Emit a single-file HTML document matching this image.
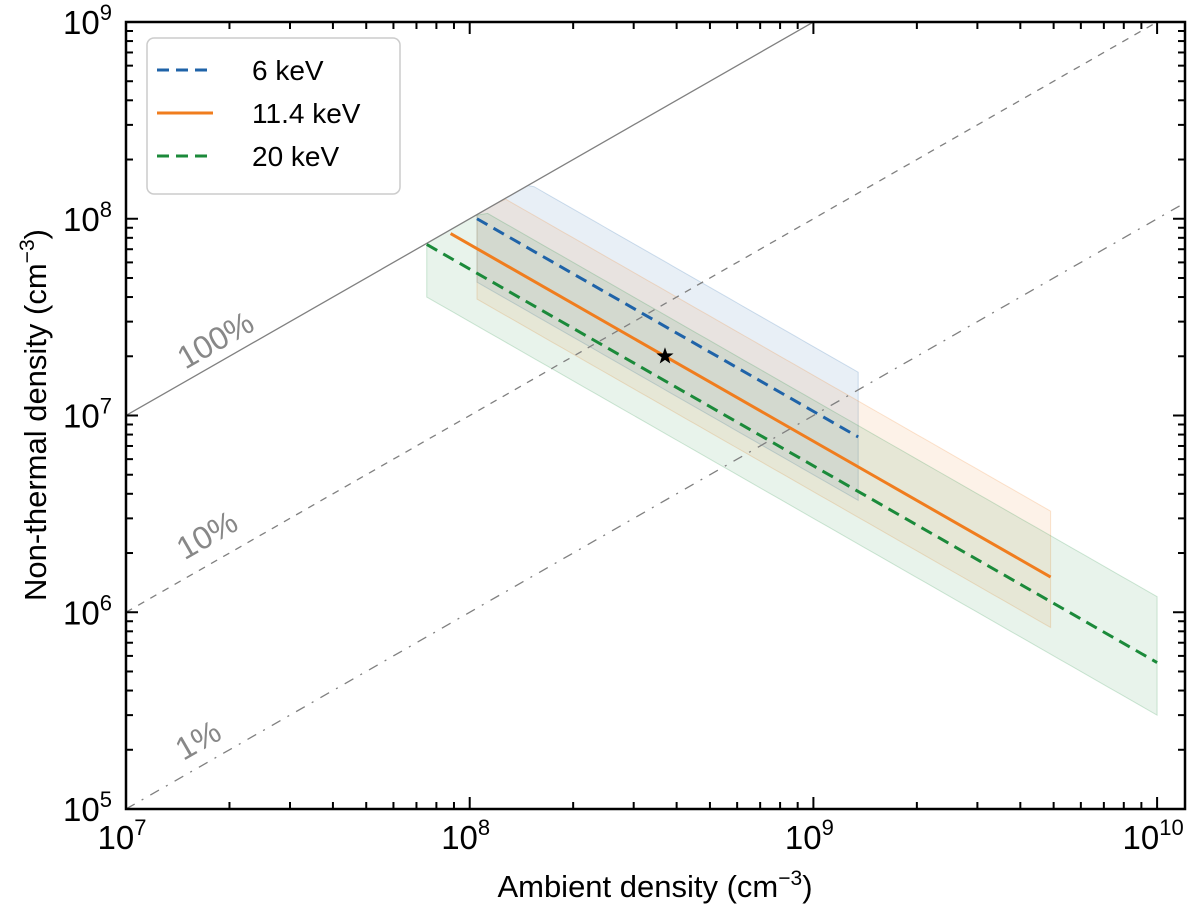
<!DOCTYPE html>
<html><head><meta charset="utf-8"><style>
body{margin:0;background:#fff;}
svg{display:block;font-family:"Liberation Sans",sans-serif;}
</style></head><body>
<svg id="c" width="1200" height="919"></svg>
<script>
const energies=["6 keV","11.4 keV","20 keV"];
const colors=["#1f63a8","#f07d1e","#1b8a3a"];
const dashes=["12,7","","12,7"];
const lineX0=[1.05e8,8.8e7,7.5e7];
const lineX1=[1.35e9,4.9e9,1e10];
const lineC=[1.05e16,7.4e15,5.55e15];
const bandUpper=[2.24e16,1.6e16,1.2e16];
const bandLower=[5.0e15,4.1e15,3.0e15];
const bandX0=[1.05e8,1.05e8,7.5e7];
const bandX1=[1.35e9,4.9e9,1e10];
const fractions=[1,0.1,0.01];
const fracLabels=["100%","10%","1%"];
const starPoint=[3.7e8,2e7];
const xTicks=[7,8,9,10];
const yTicks=[5,6,7,8,9];

const L=126,R=1185,T=22,B=809;
const xd=343.7, yd=196.75;
const X=v=>L+(Math.log10(v)-7)*xd;
const Y=v=>T+(9-Math.log10(v))*yd;
const xmax=Math.pow(10,7+(R-L)/xd);
const svg=document.getElementById('c');
const NS='http://www.w3.org/2000/svg';
function mk(t,a,p){const e=document.createElementNS(NS,t);for(const k in a)e.setAttribute(k,a[k]);(p||svg).appendChild(e);return e;}
const defs=mk('defs',{});const cp=mk('clipPath',{id:'cp'},defs);mk('rect',{x:L,y:T,width:R-L,height:B-T},cp);
const g=mk('g',{'clip-path':'url(#cp)'});

for(let i=0;i<3;i++){
  const pts=[];const n=60;
  for(let k=0;k<=n;k++){const x=bandX0[i]*Math.pow(bandX1[i]/bandX0[i],k/n);pts.push([X(x),Y(Math.min(bandUpper[i]/x,x))]);}
  for(let k=n;k>=0;k--){const x=bandX0[i]*Math.pow(bandX1[i]/bandX0[i],k/n);pts.push([X(x),Y(bandLower[i]/x)]);}
  const p=mk('polygon',{points:pts.map(q=>q.join(',')).join(' '),fill:colors[i],'fill-opacity':0.1,stroke:colors[i],'stroke-opacity':0.2},g);
  
  
}
const fdash=["","7,7","10,8,2,8"];
for(let i=0;i<3;i++){
  const f=fractions[i];
  const l=mk('line',{x1:X(1e7),y1:Y(1e7*f),x2:X(xmax),y2:Y(xmax*f),stroke:'#808080','stroke-width':1.3,'stroke-dasharray':fdash[i]},g);
  
  
}
const labPos=[[1.82e7,2.42e7],[1.72e7,2.47e6],[1.62e7,2.24e5]];
for(let i=0;i<3;i++){
  const x=X(labPos[i][0]),y=Y(labPos[i][1]);
  const t=mk('text',{x:x,y:y+11,fill:'#888','font-size':32,'text-anchor':'middle',transform:`rotate(-29.8 ${x} ${y})`});
  t.textContent=fracLabels[i];
  
  
}
for(let i=0;i<3;i++){
  const l=mk('line',{x1:X(lineX0[i]),y1:Y(lineC[i]/lineX0[i]),x2:X(lineX1[i]),y2:Y(lineC[i]/lineX1[i]),stroke:colors[i],'stroke-width':3,'stroke-dasharray':dashes[i]},g);
  
  
}
{const cx=X(starPoint[0]),cy=Y(starPoint[1]);let p=[];for(let k=0;k<10;k++){const r=k%2?3.6:9;const a=-Math.PI/2+k*Math.PI/5;p.push((cx+r*Math.cos(a))+','+(cy+r*Math.sin(a)));}
const s=mk('polygon',{points:p.join(' '),fill:'#000'});}

mk('rect',{x:L,y:T,width:R-L,height:B-T,fill:'none',stroke:'#000','stroke-width':2.5});
for(let d=7;d<=10;d++)for(let m=1;m<10;m++){const v=m*Math.pow(10,d);if(v>xmax)break;const x=X(v);const len=m==1?12:7;
  mk('line',{x1:x,y1:B,x2:x,y2:B-len,stroke:'#000','stroke-width':2});mk('line',{x1:x,y1:T,x2:x,y2:T+len,stroke:'#000','stroke-width':2});}
for(let d=5;d<=9;d++)for(let m=1;m<10;m++){const v=m*Math.pow(10,d);if(v>1e9)break;const y=Y(v);const len=m==1?12:7;
  mk('line',{x1:L,y1:y,x2:L+len,y2:y,stroke:'#000','stroke-width':2});mk('line',{x1:R,y1:y,x2:R-len,y2:y,stroke:'#000','stroke-width':2});}
xTicks.forEach(e=>{const t=mk('text',{x:X(Math.pow(10,e))-4,y:B+40,'font-size':33,'text-anchor':'middle'});t.innerHTML='10<tspan dy="-14" font-size="22">'+e+'</tspan>';
  });
yTicks.forEach(e=>{const t=mk('text',{x:L-14,y:Y(Math.pow(10,e))+12,'font-size':33,'text-anchor':'end'});t.innerHTML='10<tspan dy="-14" font-size="22">'+e+'</tspan>';
  });
{const t=mk('text',{x:655,y:897,'font-size':31,'text-anchor':'middle'});t.innerHTML='Ambient density (cm<tspan dy="-12" font-size="21">−3</tspan><tspan dy="12">)</tspan>';}
{const t=mk('text',{x:0,y:0,'font-size':31,'text-anchor':'middle',transform:'translate(46 415) rotate(-90)'});t.innerHTML='Non-thermal density (cm<tspan dy="-12" font-size="21">−3</tspan><tspan dy="12">)</tspan>';}
const lg=mk('g',{});
mk('rect',{x:147,y:38,width:253,height:156,rx:7,fill:'#fff',stroke:'#ccc','stroke-width':1.5},lg);
for(let i=0;i<3;i++){const y=70+i*43;const e=mk('g',{},lg);
  mk('line',{x1:157,y1:y,x2:213,y2:y,stroke:colors[i],'stroke-width':3,'stroke-dasharray':dashes[i]},e);
  const t=mk('text',{x:252,y:y+10,'font-size':28},e);t.textContent=energies[i];}
</script>
</body></html>
